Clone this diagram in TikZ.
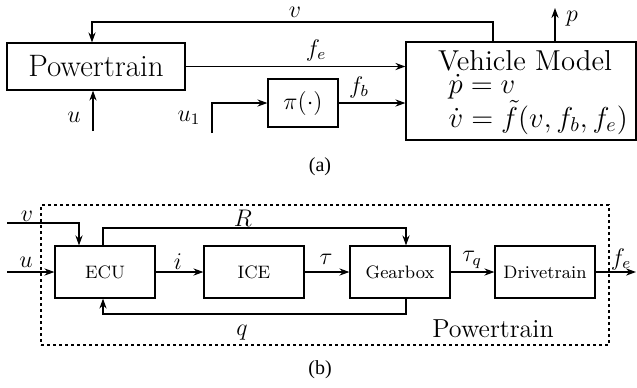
\documentclass[tikz,border=0pt]{standalone}
\usepackage{fontspec}
\newfontfamily\capfont{Liberation Serif}
\usetikzlibrary{arrows.meta}

\tikzset{every picture/.style={line width=0.6pt}}
\tikzset{
  arr/.style={-{Stealth[length=5pt,width=3.6pt]}},
  blk/.style={draw,inner sep=0pt,minimum width=50pt,minimum height=26pt,font=\small},
  lbl/.style={inner sep=0.75pt,font=\large},
  dotbox/.style={draw,line width=0.8pt,dash pattern=on 1.6pt off 1.4pt,inner sep=0pt}
}

\begin{document}
\begin{tikzpicture}[x=0.5pt,y=0.5pt,yscale=-1,xscale=1]
\useasboundingbox (0,0) rectangle (637,387);

%Shape: Rectangle 
\node [draw,inner sep=0pt,minimum width=89pt,minimum height=23.5pt,font=\fontsize{15.5}{18}\selectfont] (pt) at (96,66.5) {Powertrain};
%Shape: Rectangle 
\node [draw,inner sep=0pt,minimum width=35pt,minimum height=24pt,font=\large] (pi) at (303,103) {$\pi(\cdot)$};
%Shape: Rectangle 
\node [draw,inner sep=0pt,minimum width=115pt,minimum height=49pt] (vm) at (521,91) {};

\coordinate (vtap) at (493,42);
\coordinate (vcorner) at (92,22);
\coordinate (uin) at (93,131);
\coordinate (uone) at (212,133);
\coordinate (pout) at (555,8);

%Straight Lines 
\draw [arr] (vtap) |- (vcorner) -- (vcorner |- pt.north);
%Straight Lines 
\draw [arr] (pt.east) -- (pt.east -| vm.west);
%Straight Lines 
\draw [arr] (pi.east) -- (pi.east -| vm.west);
%Straight Lines 
\draw [arr] (uone) |- (pi.west);
%Straight Lines 
\draw [arr] (uin) -- (uin |- pt.south);
%Straight Lines 
\draw [arr] (vm.north -| pout) -- (pout);

% Text Node
\node [inner sep=0pt,font=\Large,anchor=base,text depth=0pt] (vmtitle) at (525,70) {Vehicle Model};
% Text Node
\node [inner sep=0pt,font=\Large,anchor=base west,text height=7pt,text depth=1pt] (vmeqa) at (448,93) {$\dot{p} = v$};
% Text Node
\node [inner sep=0pt,font=\Large,anchor=base west,text height=7.5pt] (vmeqb) at (448,127) {$\dot{v} = \tilde{f}(v, f_b, f_e)$};
% Text Node
\node [lbl] (lv) at (295,12) {$v$};
% Text Node
\node [lbl] (lfe) at (316,50) {$f_e$};
% Text Node
\node [lbl] (lfb) at (359,87) {$f_b$};
% Text Node
\node [lbl] (luone) at (189,118) {$u_1$};
% Text Node
\node [lbl] (lu) at (74,117) {$u$};
% Text Node
\node [lbl] (lp) at (572,19) {$p$};
% Text Node
\node [inner sep=0.75pt,font=\capfont] (capa) at (320,167) {(a)};

%Shape: Rectangle 
\node [dotbox,minimum width=284pt,minimum height=70pt] (ptbox) at (325,275) {};
%Shape: Rectangle 
\node [blk] (ecu) at (105,272) {ECU};
%Shape: Rectangle 
\node [blk] (ice) at (254,272) {ICE};
%Shape: Rectangle 
\node [blk] (gb) at (400,272) {Gearbox};
%Shape: Rectangle 
\node [blk] (dt) at (545,272) {Drivetrain};

\coordinate (vin) at (7,223);
\coordinate (vbend) at (79,223);
\coordinate (uin2) at (7,272);
\coordinate (rl) at (103,228);
\coordinate (rr) at (406,228);
\coordinate (ql) at (103,314);
\coordinate (qr) at (406,314);
\coordinate (feout) at (636,272);

%Straight Lines 
\draw [arr] (vin) -- (vbend) -- (vbend |- ecu.north);
%Straight Lines 
\draw [arr] (uin2) -- (ecu.west);
%Straight Lines 
\draw [arr] (rl |- ecu.north) -- (rl) -- (rr) -- (rr |- gb.north);
%Straight Lines 
\draw [arr] (ecu.east) -- (ice.west);
%Straight Lines 
\draw [arr] (ice.east) -- (gb.west);
%Straight Lines 
\draw [arr] (gb.east) -- (dt.west);
%Straight Lines 
\draw [arr] (dt.east) -- (feout);
%Straight Lines 
\draw [arr] (qr |- gb.south) -- (qr) -- (ql) -- (ql |- ecu.south);

% Text Node
\node [lbl] (lv2) at (27,216) {$v$};
% Text Node
\node [lbl] (lu2) at (26,262) {$u$};
% Text Node
\node [lbl] (lr) at (243,218) {$R$};
% Text Node
\node [lbl] (li) at (178,262) {$i$};
% Text Node
\node [lbl] (ltau) at (326,259) {$\tau$};
% Text Node
\node [lbl] (ltauq) at (472,260) {$\tau_q$};
% Text Node
\node [lbl] (lfe2) at (621,259) {$f_e$};
% Text Node
\node [lbl] (lq) at (242,333) {$q$};
% Text Node
\node [inner sep=0.75pt,font=\fontsize{13}{15}\selectfont,anchor=base] (lpt) at (493,337) {Powertrain};
% Text Node
\node [inner sep=0.75pt,font=\capfont] (capb) at (320,370) {(b)};

\end{tikzpicture}
\end{document}
